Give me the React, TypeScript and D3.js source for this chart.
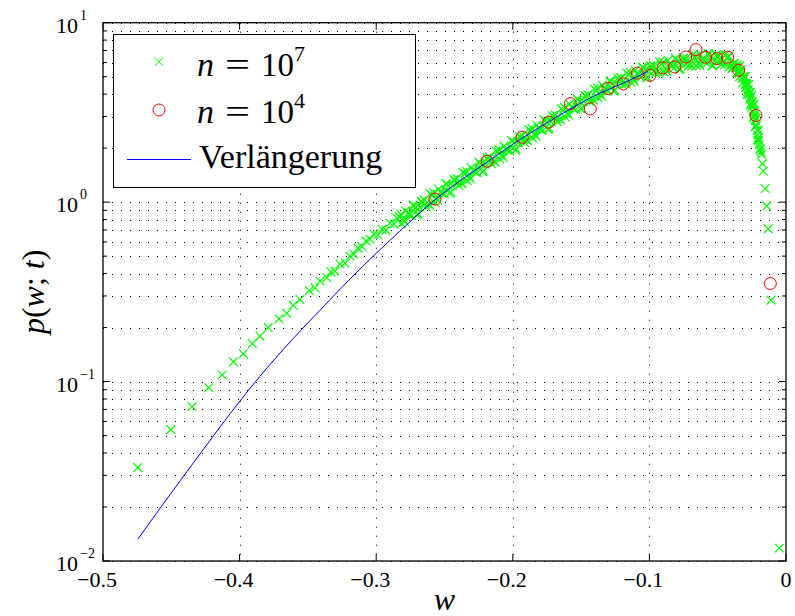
import React from 'react';
import * as d3 from 'd3';

// n = 10^7 : [w, p]
const sim7: [number, number][] = [
  [-0.4746, 0.0332], [-0.4504, 0.054], [-0.4348, 0.0725], [-0.4226, 0.0925], [-0.4127, 0.109],
  [-0.4046, 0.129], [-0.3973, 0.143], [-0.3907, 0.163], [-0.3851, 0.179], [-0.379, 0.2],
  [-0.3712, 0.224], [-0.3655, 0.24], [-0.3607, 0.266], [-0.3558, 0.287], [-0.349, 0.322],
  [-0.3448, 0.333], [-0.3411, 0.363], [-0.3362, 0.379], [-0.3331, 0.408], [-0.3302, 0.413],
  [-0.3265, 0.452], [-0.3228, 0.457], [-0.3192, 0.5], [-0.3163, 0.513], [-0.3133, 0.554],
  [-0.3104, 0.565], [-0.3075, 0.607], [-0.3045, 0.622], [-0.3016, 0.664], [-0.2987, 0.655],
  [-0.2958, 0.707], [-0.2928, 0.698], [-0.2899, 0.764], [-0.287, 0.755], [-0.2848, 0.815],
  [-0.283, 0.828], [-0.28, 0.8], [-0.277, 0.863], [-0.274, 0.841], [-0.271, 0.938],
  [-0.268, 0.936], [-0.265, 1.028], [-0.262, 0.975], [-0.259, 1.091], [-0.256, 1.054],
  [-0.253, 1.138], [-0.25, 1.109], [-0.247, 1.236], [-0.244, 1.233], [-0.241, 1.355],
  [-0.238, 1.285], [-0.235, 1.439], [-0.232, 1.39], [-0.229, 1.5], [-0.226, 1.462],
  [-0.223, 1.629], [-0.22, 1.626], [-0.217, 1.786], [-0.214, 1.694], [-0.211, 1.897],
  [-0.208, 1.832], [-0.205, 1.977], [-0.202, 1.928], [-0.199, 2.148], [-0.196, 2.143],
  [-0.193, 2.355], [-0.19, 2.228], [-0.187, 2.489], [-0.184, 2.399], [-0.181, 2.582],
  [-0.178, 2.512], [-0.175, 2.805], [-0.172, 2.799], [-0.169, 3.069], [-0.166, 2.911],
  [-0.163, 3.251], [-0.16, 3.141], [-0.157, 3.388], [-0.154, 3.289], [-0.151, 3.648],
  [-0.148, 3.631], [-0.145, 3.972], [-0.142, 3.75], [-0.139, 4.178], [-0.136, 4.018],
  [-0.133, 4.305], [-0.13, 4.159], [-0.127, 4.592], [-0.124, 4.539], [-0.121, 4.932],
  [-0.118, 4.624], [-0.115, 5.117], [-0.112, 4.875], [-0.109, 5.188], [-0.106, 4.977],
  [-0.103, 5.458], [-0.1, 5.346], [-0.097, 5.768], [-0.094, 5.358], [-0.091, 5.875],
  [-0.088, 5.559], [-0.085, 5.861], [-0.082, 5.585], [-0.079, 6.081], [-0.076, 5.916],
  [-0.073, 6.339], [-0.07, 5.861], [-0.067, 6.383], [-0.064, 5.998], [-0.061, 6.281],
  [-0.058, 5.943], [-0.055, 6.412], [-0.052, 6.18], [-0.049, 6.546], [-0.046, 5.957],
  [-0.043, 6.368], [-0.04, 5.821],
  // in-between samples of the same run
  [-0.2815, 0.758], [-0.2785, 0.896], [-0.2755, 0.846], [-0.2725, 0.952], [-0.2695, 0.862],
  [-0.2665, 0.997], [-0.2635, 0.941], [-0.2605, 1.113], [-0.2575, 0.999], [-0.2545, 1.182],
  [-0.2515, 1.116], [-0.2485, 1.254], [-0.2455, 1.137], [-0.2425, 1.314], [-0.2395, 1.24],
  [-0.2365, 1.467], [-0.2335, 1.317], [-0.2305, 1.557], [-0.2275, 1.471], [-0.2245, 1.654],
  [-0.2215, 1.498], [-0.2185, 1.732], [-0.2155, 1.635], [-0.2125, 1.934], [-0.2095, 1.736],
  [-0.2065, 2.053], [-0.2035, 1.939], [-0.2005, 2.181], [-0.1975, 1.975], [-0.1945, 2.283],
  [-0.1915, 2.153], [-0.1885, 2.541], [-0.1855, 2.275], [-0.1825, 2.685], [-0.1795, 2.529],
  [-0.1765, 2.844], [-0.1735, 2.579], [-0.1705, 2.979], [-0.1675, 2.808], [-0.1645, 3.319],
  [-0.1615, 2.976], [-0.1585, 3.519], [-0.1555, 3.315], [-0.1525, 3.711], [-0.1495, 3.35],
  [-0.1465, 3.859], [-0.1435, 3.627], [-0.1405, 4.271], [-0.1375, 3.815], [-0.1345, 4.487],
  [-0.1315, 4.203], [-0.1285, 4.683], [-0.1255, 4.203], [-0.1225, 4.808], [-0.1195, 4.487],
  [-0.1165, 5.248], [-0.1135, 4.651], [-0.1105, 5.428], [-0.1075, 5.047], [-0.1045, 5.585],
  [-0.1015, 4.972], [-0.0985, 5.643], [-0.0955, 5.224], [-0.0925, 6.053], [-0.0895, 5.321],
  [-0.0865, 6.159], [-0.0835, 5.682], [-0.0805, 6.245], [-0.0775, 5.521], [-0.0745, 6.223],
  [-0.0715, 5.728], [-0.0685, 6.599], [-0.0655, 5.761], [-0.0625, 6.622], [-0.0595, 6.067],
  [-0.0565, 6.614], [-0.0535, 5.794], [-0.0505, 6.465], [-0.0475, 5.868], [-0.0445, 6.645],
  [-0.0415, 5.669],
  [-0.282, 0.857], [-0.279, 0.776], [-0.276, 0.861], [-0.273, 0.964], [-0.27, 0.849],
  [-0.267, 1.014], [-0.264, 0.975], [-0.261, 0.964], [-0.258, 1.13], [-0.255, 1.023],
  [-0.252, 1.135], [-0.249, 1.271], [-0.246, 1.119], [-0.243, 1.337], [-0.24, 1.285],
  [-0.237, 1.271], [-0.234, 1.489], [-0.231, 1.349], [-0.228, 1.496], [-0.225, 1.675],
  [-0.222, 1.476], [-0.219, 1.762], [-0.216, 1.694], [-0.213, 1.675], [-0.21, 1.963],
  [-0.207, 1.778], [-0.204, 1.972], [-0.201, 2.208], [-0.198, 1.945], [-0.195, 2.323],
  [-0.192, 2.234], [-0.189, 2.203], [-0.186, 2.576], [-0.183, 2.328], [-0.18, 2.576],
  [-0.177, 2.877], [-0.174, 2.541], [-0.171, 3.034], [-0.168, 2.911], [-0.165, 2.877],
  [-0.162, 3.365], [-0.159, 3.048], [-0.156, 3.373], [-0.153, 3.758], [-0.15, 3.296],
  [-0.147, 3.926], [-0.144, 3.758], [-0.141, 3.698], [-0.138, 4.315], [-0.135, 3.89],
  [-0.132, 4.285], [-0.129, 4.749], [-0.126, 4.145], [-0.123, 4.904], [-0.12, 4.662],
  [-0.117, 4.556], [-0.114, 5.278], [-0.111, 4.716], [-0.108, 5.158], [-0.105, 5.662],
  [-0.102, 4.909], [-0.099, 5.754], [-0.096, 5.433], [-0.093, 5.26], [-0.09, 6.039],
  [-0.087, 5.352], [-0.084, 5.801], [-0.081, 6.346], [-0.078, 5.464], [-0.075, 6.361],
  [-0.072, 5.964], [-0.069, 5.741], [-0.066, 6.546], [-0.063, 5.768], [-0.06, 6.209],
  [-0.057, 6.745], [-0.054, 5.741], [-0.051, 6.622], [-0.048, 6.138], [-0.045, 5.821],
  [-0.042, 6.516], [-0.039, 5.585],
  // falling edge
  [-0.0395, 5.559], [-0.0385, 5.888], [-0.0378, 5.957], [-0.037, 5.598], [-0.036, 5.649],
  [-0.0355, 5.821], [-0.0345, 5.248], [-0.034, 5.012], [-0.0335, 5.346], [-0.0328, 5.495],
  [-0.032, 4.898], [-0.0312, 5.012], [-0.0305, 4.898], [-0.03, 4.519], [-0.0296, 4.365],
  [-0.0292, 4.592], [-0.0287, 4.519], [-0.0282, 4.121], [-0.0275, 4.246], [-0.027, 3.981],
  [-0.0265, 3.758], [-0.0262, 4.093], [-0.0258, 3.846], [-0.0254, 3.548], [-0.025, 3.388],
  [-0.0246, 3.631], [-0.0243, 3.467], [-0.0239, 3.199], [-0.0235, 3.02], [-0.0231, 3.273],
  [-0.0228, 3.09], [-0.0224, 2.851], [-0.022, 2.661], [-0.0216, 2.692], [-0.0212, 2.512],
  [-0.0208, 2.371], [-0.0203, 2.28], [-0.0199, 2.213], [-0.0196, 2.089], [-0.0192, 1.95],
  [-0.0362, 5.248], [-0.0338, 5.754], [-0.0318, 4.624], [-0.0298, 5.012], [-0.0285, 3.981],
  [-0.0273, 4.519], [-0.026, 3.467], [-0.0252, 3.936], [-0.0241, 2.951], [-0.0233, 3.508],
  [-0.0226, 2.63], [-0.0218, 2.951], [-0.021, 2.213], [-0.0201, 2.512],
  [-0.0188, 1.995], [-0.0183, 1.905], [-0.0178, 1.849], [-0.0172, 1.641], [-0.0166, 1.489],
  [-0.0152, 1.191], [-0.0141, 0.951], [-0.013, 0.71], [-0.011, 0.284], [-0.0049, 0.0118],
];

// n = 10^4 : [w, p]
const sim4: [number, number][] = [
  [-0.257, 1.04], [-0.2187, 1.69], [-0.1931, 2.3], [-0.1737, 2.79], [-0.1579, 3.54],
  [-0.1433, 3.31], [-0.1303, 4.3], [-0.1191, 4.56], [-0.1089, 5.23], [-0.0996, 5.09],
  [-0.09, 5.6], [-0.0815, 5.67], [-0.0734, 6.44], [-0.0659, 7.08], [-0.0588, 6.42],
  [-0.0507, 6.31], [-0.0427, 6.42], [-0.0346, 5.43], [-0.022, 3.04], [-0.0115, 0.352],
];

// Verlängerung : [w, p]
const extension: [number, number][] = [
  [-0.4746, 0.0132], [-0.451, 0.0234], [-0.429, 0.0395], [-0.3997, 0.078], [-0.3851, 0.107],
  [-0.3619, 0.17], [-0.3411, 0.25], [-0.3192, 0.373], [-0.2826, 0.69], [-0.257, 1.03],
  [-0.2189, 1.67], [-0.1933, 2.27], [-0.1742, 2.79], [-0.1581, 3.3], [-0.1362, 4.05],
  [-0.1193, 4.6], [-0.101, 5.35],
];

const xTicks = [-0.5, -0.4, -0.3, -0.2, -0.1, 0];
const xTickLabels = ['\u22120.5', '\u22120.4', '\u22120.3', '\u22120.2', '\u22120.1', '0'];
const yDecades = [0.01, 0.1, 1, 10];
const yExponents = ['\u22122', '\u22121', '0', '1'];
const legendExponents = ['7', '4'];

const W = 795;
const H = 616;
const L = 103, R = 786, T = 22.7, B = 561;
const serif = '"Liberation Serif", "DejaVu Serif", serif';

export default function App() {
  const x = d3.scaleLinear().domain([-0.5, 0]).range([L, R]);
  const y = d3.scaleLog().domain([0.01, 10]).range([B, T]);

  const minorY: number[] = [];
  yDecades.slice(0, 3).forEach((d) => {
    for (let k = 2; k <= 9; k++) minorY.push(d * k);
  });

  const line = d3
    .line<[number, number]>()
    .x((d) => x(d[0]))
    .y((d) => y(d[1]))
    .curve(d3.curveMonotoneX);

  const cross = 'M-4.3,-4.3L4.3,4.3M-4.3,4.3L4.3,-4.3';

  return (
    <svg width={W} height={H} style={{ position: 'absolute', left: 0, top: 0, background: '#fff' }}>
      <rect x={0} y={0} width={W} height={H} fill="#fff" />
      {/* grid */}
      <g stroke="#000" strokeWidth={1} strokeDasharray="1 8" fill="none">
        {[...yDecades, ...minorY].map((v, i) => (
          <line key={'gy' + i} x1={L} x2={R} y1={Math.round(y(v)) + 0.5} y2={Math.round(y(v)) + 0.5} />
        ))}
        {xTicks.slice(1, -1).map((v, i) => (
          <line key={'gx' + i} x1={Math.round(x(v)) + 0.5} x2={Math.round(x(v)) + 0.5} y1={T} y2={B} />
        ))}
      </g>

      {/* data */}
      <g stroke="#00ff00" strokeWidth={1.2} fill="none">
        {sim7.map((d, i) => (
          <path key={'g' + i} d={cross} transform={`translate(${x(d[0])},${y(d[1])})`} />
        ))}
      </g>
      <g stroke="#ff0000" strokeWidth={1} fill="none">
        {sim4.map((d, i) => (
          <circle key={'r' + i} cx={x(d[0])} cy={y(d[1])} r={6} />
        ))}
      </g>
      <path d={line(extension) || ''} stroke="#0000ff" strokeWidth={1} fill="none" />

      {/* box and ticks */}
      <rect x={L} y={T} width={R - L} height={B - T} fill="none" stroke="#000" strokeWidth={1.3} />
      <g stroke="#000" strokeWidth={1}>
        {yDecades.map((v, i) => (
          <g key={'ty' + i}>
            <line x1={L} x2={L + 7} y1={y(v)} y2={y(v)} />
            <line x1={R} x2={R - 7} y1={y(v)} y2={y(v)} />
          </g>
        ))}
        {minorY.map((v, i) => (
          <g key={'tm' + i}>
            <line x1={L} x2={L + 4} y1={y(v)} y2={y(v)} />
            <line x1={R} x2={R - 4} y1={y(v)} y2={y(v)} />
          </g>
        ))}
        {xTicks.map((v, i) => (
          <g key={'tx' + i}>
            <line x1={x(v)} x2={x(v)} y1={B} y2={B - 7} />
            <line x1={x(v)} x2={x(v)} y1={T} y2={T + 7} />
          </g>
        ))}
      </g>

      {/* tick labels */}
      <g fontFamily={serif} fill="#000">
        {xTicks.map((v, i) => (
          <text key={'lx' + i} x={x(v)} y={587} dx={v < 0 ? -6 : 0} fontSize={22} textAnchor="middle">
            {xTickLabels[i]}
          </text>
        ))}
        {yDecades.map((v, i) => (
          <g key={'ly' + i}>
            <text x={78} y={y(v) + 10} fontSize={22} textAnchor="end">10</text>
            <text x={80} y={y(v) - 3} fontSize={14}>{yExponents[i]}</text>
          </g>
        ))}
      </g>

      {/* axis labels */}
      <text x={(L + R) / 2} y={610} fontFamily={serif} fontSize={32} fontStyle="italic" textAnchor="middle">
        w
      </text>
      <text
        transform={`translate(44,${(T + B) / 2}) rotate(-90)`}
        fontFamily={serif}
        fontSize={32}
        textAnchor="middle"
      >
        <tspan fontStyle="italic">p</tspan>
        <tspan>(</tspan>
        <tspan fontStyle="italic">w</tspan>
        <tspan>; </tspan>
        <tspan fontStyle="italic">t</tspan>
        <tspan>)</tspan>
      </text>

      {/* legend */}
      <g>
        <rect x={113.5} y={34.5} width={302} height={153} fill="#fff" stroke="#000" strokeWidth={1} />
        <path d={cross} transform="translate(159,61.7)" stroke="#00ff00" strokeWidth={1} fill="none" />
        <circle cx={159} cy={110} r={6} stroke="#ff0000" strokeWidth={1} fill="none" />
        <line x1={127} x2={191} y1={159.5} y2={159.5} stroke="#0000ff" strokeWidth={1} />
        <g fontFamily={serif} fill="#000">
          {legendExponents.map((e, i) => {
            const by = 76 + i * 47;
            return (
              <g key={'le' + i}>
                <text x={197} y={by} fontSize={34} fontStyle="italic">n</text>
                <text x={225} y={by} fontSize={34} textLength={25} lengthAdjust="spacingAndGlyphs">=</text>
                <text x={261} y={by} fontSize={33}>10</text>
                <text x={294} y={by - 15} fontSize={22}>{e}</text>
              </g>
            );
          })}
          <text x={199} y={168} fontSize={34}>
            Verlängerung
          </text>
        </g>
      </g>
    </svg>
  );
}
